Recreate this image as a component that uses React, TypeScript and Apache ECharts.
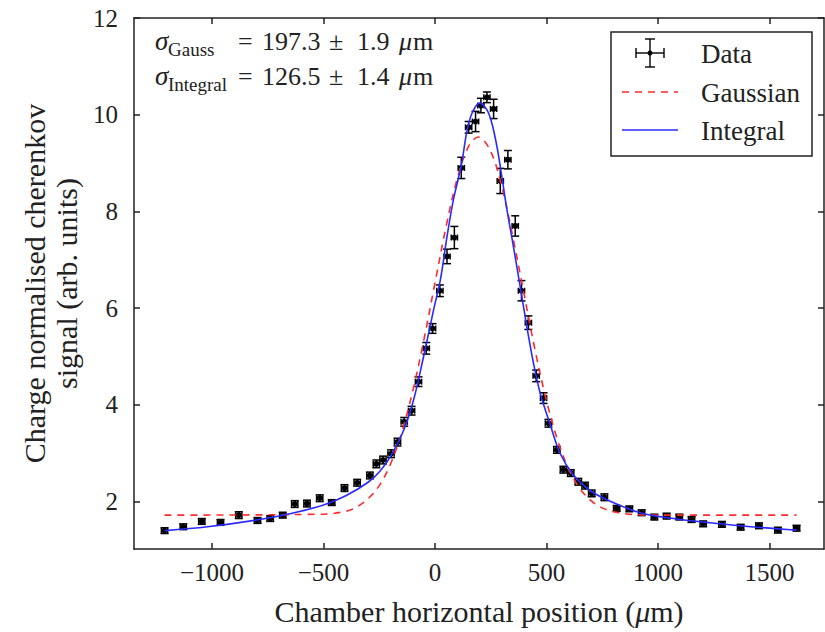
import React, { useEffect, useRef } from "react";
import * as echarts from "echarts";

// ---- Data ----
const dataX = [
  -1213, -1129, -1046, -962, -880, -796, -739, -683, -629, -574, -517, -463, -406, -349, -292, -263,
  -233, -197, -168, -138, -105, -74, -39, -11, 22, 54, 87, 118, 151, 182, 206, 233, 263, 293, 327,
  360, 388, 419, 454, 487, 509, 547, 576, 609, 643, 673, 703, 760, 815, 872, 927, 984, 1039, 1096,
  1151, 1203, 1287, 1371, 1453, 1538, 1622,
];
const dataY = [
  1.40, 1.48, 1.59, 1.57, 1.72, 1.61, 1.65, 1.72, 1.95, 1.96, 2.07, 1.98, 2.28, 2.39, 2.54, 2.78,
  2.86, 2.99, 3.23, 3.65, 3.88, 4.48, 5.17, 5.58, 6.36, 7.07, 7.46, 8.90, 9.74, 9.86, 10.19, 10.36,
  10.12, 8.63, 9.07, 7.70, 6.36, 5.70, 4.60, 4.14, 3.62, 3.07, 2.66, 2.59, 2.41, 2.33, 2.17, 2.09,
  1.86, 1.85, 1.77, 1.68, 1.70, 1.68, 1.63, 1.54, 1.53, 1.47, 1.50, 1.41, 1.45,
];
const dataYErr = [
  0.06, 0.06, 0.06, 0.06, 0.07, 0.06, 0.06, 0.06, 0.07, 0.07, 0.07, 0.06, 0.07, 0.07, 0.07, 0.08,
  0.08, 0.08, 0.08, 0.09, 0.09, 0.10, 0.12, 0.10, 0.12, 0.15, 0.23, 0.22, 0.12, 0.21, 0.15, 0.11,
  0.20, 0.26, 0.19, 0.21, 0.21, 0.14, 0.12, 0.11, 0.08, 0.07, 0.07, 0.07, 0.07, 0.07, 0.07, 0.07,
  0.06, 0.06, 0.06, 0.06, 0.06, 0.06, 0.06, 0.06, 0.06, 0.06, 0.06, 0.06, 0.06,
];
const dataXErr = 14;

const gaussX = [
  -1213, -500, -400, -350, -300, -250, -200, -150, -100, -50, 0, 50, 100, 150, 195, 250, 300, 350,
  400, 450, 500, 550, 600, 650, 700, 750, 800, 900, 1000, 1622,
];
const gaussY = [
  1.72, 1.74, 1.80, 1.89, 2.06, 2.33, 2.77, 3.42, 4.28, 5.34, 6.52, 7.69, 8.68, 9.34, 9.54, 9.24,
  8.51, 7.46, 6.28, 5.11, 4.09, 3.27, 2.67, 2.27, 2.02, 1.87, 1.79, 1.73, 1.72, 1.72,
];

const integralX = [
  -1213, -1020, -800, -650, -500, -400, -300, -245, -200, -140, -96, -51, -6, 24, 54, 83, 118, 143,
  166, 200, 233, 255, 278, 300, 323, 352, 382, 412, 442, 472, 515, 561, 621, 696, 771, 920, 1069,
  1219, 1368, 1622,
];
const integralY = [
  1.40, 1.48, 1.62, 1.75, 1.93, 2.12, 2.40, 2.64, 2.93, 3.48, 4.10, 5.00, 5.97, 6.58, 7.48, 8.25,
  8.95, 9.65, 10.03, 10.24, 10.10, 9.83, 9.34, 8.72, 8.03, 7.27, 6.45, 5.62, 4.86, 4.24, 3.62, 3.00,
  2.55, 2.23, 2.04, 1.77, 1.65, 1.57, 1.50, 1.41,
];

const xTicks = [-1000, -500, 0, 500, 1000, 1500];
const yTicks = [2, 4, 6, 8, 10, 12];

const FONT = "'Liberation Serif', 'DejaVu Serif', serif";
const TXT = "#222";
const RED = "#ff2a2a";
const BLUE = "#2a2aff";

export default function App() {
  const ref = useRef<HTMLDivElement>(null);

  useEffect(() => {
    if (!ref.current) return;
    const chart = echarts.init(ref.current, undefined, { renderer: "svg" });

    const axisLineStyle = { color: "#222", width: 1.5 };
    const points = dataX.map((x, i) => [x, dataY[i], dataYErr[i], dataXErr]);

    const fmt = (v: number) => (v < 0 ? "\u2212" + Math.abs(v) : String(v));

    const txt = (x: number, y: number, text: string, size: number, italic = false, z = 50) => ({
      type: "text",
      x,
      y,
      z,
      style: {
        text,
        font: `${italic ? "italic " : ""}${size}px ${FONT}`,
        fill: TXT,
        verticalAlign: "middle",
      },
    });

    const option: any = {
      animation: false,
      backgroundColor: "#fff",
      grid: { left: 134, right: 1, top: 18, bottom: 83, containLabel: false },
      xAxis: [
        {
          type: "value",
          min: -1350,
          max: 1745,
          position: "bottom",
          axisLine: { show: true, onZero: false, lineStyle: axisLineStyle },
          axisTick: { show: true, inside: true, length: 6, customValues: xTicks, lineStyle: axisLineStyle },
          axisLabel: {
            customValues: xTicks,
            formatter: fmt,
            fontFamily: FONT,
            fontSize: 25,
            color: TXT,
            margin: 11,
          },
          splitLine: { show: false },
          name: "Chamber horizontal position ({i|\u03bc}m)",
          nameLocation: "middle",
          nameGap: 47,
          nameTextStyle: {
            fontFamily: FONT,
            fontSize: 30,
            color: TXT,
            rich: { i: { fontFamily: FONT, fontSize: 30, fontStyle: "italic", color: TXT } },
          },
        },
        {
          type: "value",
          min: -1350,
          max: 1745,
          position: "top",
          axisLine: { show: true, onZero: false, lineStyle: axisLineStyle },
          axisTick: { show: true, inside: true, length: 6, customValues: xTicks, lineStyle: axisLineStyle },
          axisLabel: { show: false },
          splitLine: { show: false },
        },
      ],
      yAxis: [
        {
          type: "value",
          min: 1.02,
          max: 12,
          position: "left",
          axisLine: { show: true, onZero: false, lineStyle: axisLineStyle },
          axisTick: { show: true, inside: true, length: 6, customValues: yTicks, lineStyle: axisLineStyle },
          axisLabel: {
            customValues: yTicks,
            fontFamily: FONT,
            fontSize: 25,
            color: TXT,
            margin: 16,
          },
          splitLine: { show: false },
          name: "Charge normalised cherenkov\nsignal (arb. units)",
          nameLocation: "middle",
          nameRotate: 90,
          nameGap: 50,
          nameTextStyle: { fontFamily: FONT, fontSize: 30, color: TXT, lineHeight: 32 },
        },
        {
          type: "value",
          min: 1.02,
          max: 12,
          position: "right",
          axisLine: { show: true, onZero: false, lineStyle: axisLineStyle },
          axisTick: { show: true, inside: true, length: 6, customValues: yTicks, lineStyle: axisLineStyle },
          axisLabel: { show: false },
          splitLine: { show: false },
        },
      ],
      series: [
        {
          type: "custom",
          name: "Data",
          xAxisIndex: 0,
          yAxisIndex: 0,
          z: 2,
          data: points,
          renderItem: (_params: any, api: any) => {
            const x = api.value(0);
            const y = api.value(1);
            const ey = api.value(2);
            const ex = api.value(3);
            const c = api.coord([x, y]);
            const t = api.coord([x, y + ey]);
            const b = api.coord([x, y - ey]);
            const l = api.coord([x - ex, y]);
            const r = api.coord([x + ex, y]);
            const cap = 4;
            const vcap = 3;
            const st = { stroke: "#000", lineWidth: 1.5 };
            return {
              type: "group",
              children: [
                { type: "line", shape: { x1: c[0], y1: t[1], x2: c[0], y2: b[1] }, style: st },
                { type: "line", shape: { x1: c[0] - cap, y1: t[1], x2: c[0] + cap, y2: t[1] }, style: st },
                { type: "line", shape: { x1: c[0] - cap, y1: b[1], x2: c[0] + cap, y2: b[1] }, style: st },
                { type: "line", shape: { x1: l[0], y1: c[1], x2: r[0], y2: c[1] }, style: st },
                { type: "line", shape: { x1: l[0], y1: c[1] - vcap, x2: l[0], y2: c[1] + vcap }, style: st },
                { type: "line", shape: { x1: r[0], y1: c[1] - vcap, x2: r[0], y2: c[1] + vcap }, style: st },
                { type: "circle", shape: { cx: c[0], cy: c[1], r: 3 }, style: { fill: "#000" } },
              ],
            };
          },
        },
        {
          type: "line",
          name: "Gaussian",
          xAxisIndex: 0,
          yAxisIndex: 0,
          z: 3,
          data: gaussX.map((x, i) => [x, gaussY[i]]),
          showSymbol: false,
          smooth: 0.35,
          lineStyle: { color: RED, width: 1.6, type: [7, 6] },
        },
        {
          type: "line",
          name: "Integral",
          xAxisIndex: 0,
          yAxisIndex: 0,
          z: 4,
          data: integralX.map((x, i) => [x, integralY[i]]),
          showSymbol: false,
          smooth: 0.35,
          lineStyle: { color: BLUE, width: 1.6, type: "solid" },
        },
      ],
      graphic: [
        // annotation
        txt(155, 41, "\u03c3", 27, true),
        txt(168, 49, "Gauss", 19),
        txt(238, 41, "=", 26),
        txt(262, 41, "197.3", 26),
        txt(329, 41, "\u00b1", 26),
        txt(357, 41, "1.9", 26),
        txt(399, 41, "\u03bc", 26, true),
        txt(413, 41, "m", 26),

        txt(155, 76, "\u03c3", 27, true),
        txt(168, 84, "Integral", 19),
        txt(238, 76, "=", 26),
        txt(262, 76, "126.5", 26),
        txt(329, 76, "\u00b1", 26),
        txt(357, 76, "1.4", 26),
        txt(399, 76, "\u03bc", 26, true),
        txt(413, 76, "m", 26),

        // legend
        { type: "rect", shape: { x: 611, y: 32, width: 201, height: 124 }, style: { fill: "#fff", stroke: "#222", lineWidth: 1.5 }, z: 100 },
        { type: "line", shape: { x1: 636, y1: 53, x2: 664, y2: 53 }, style: { stroke: "#000", lineWidth: 1.4 }, z: 101 },
        { type: "line", shape: { x1: 650, y1: 39, x2: 650, y2: 67 }, style: { stroke: "#000", lineWidth: 1.4 }, z: 101 },
        { type: "line", shape: { x1: 645, y1: 39, x2: 655, y2: 39 }, style: { stroke: "#000", lineWidth: 1.4 }, z: 101 },
        { type: "line", shape: { x1: 645, y1: 67, x2: 655, y2: 67 }, style: { stroke: "#000", lineWidth: 1.4 }, z: 101 },
        { type: "line", shape: { x1: 636, y1: 48, x2: 636, y2: 58 }, style: { stroke: "#000", lineWidth: 1.4 }, z: 101 },
        { type: "line", shape: { x1: 664, y1: 48, x2: 664, y2: 58 }, style: { stroke: "#000", lineWidth: 1.4 }, z: 101 },
        { type: "circle", shape: { cx: 650, cy: 53, r: 2.5 }, style: { fill: "#000" }, z: 101 },
        { type: "line", shape: { x1: 622, y1: 92, x2: 678, y2: 92 }, style: { stroke: RED, lineWidth: 1.6, lineDash: [7, 6] }, z: 101 },
        { type: "line", shape: { x1: 622, y1: 130, x2: 678, y2: 130 }, style: { stroke: BLUE, lineWidth: 1.6 }, z: 101 },
        txt(701, 54, "Data", 27, false, 101),
        txt(701, 93, "Gaussian", 27, false, 101),
        txt(701, 131, "Integral", 27, false, 101),
      ],
    };

    chart.setOption(option);
    return () => chart.dispose();
  }, []);

  return (
    <div
      ref={ref}
      style={{ position: "fixed", left: 0, top: 0, width: 825, height: 632, background: "#fff" }}
    />
  );
}
